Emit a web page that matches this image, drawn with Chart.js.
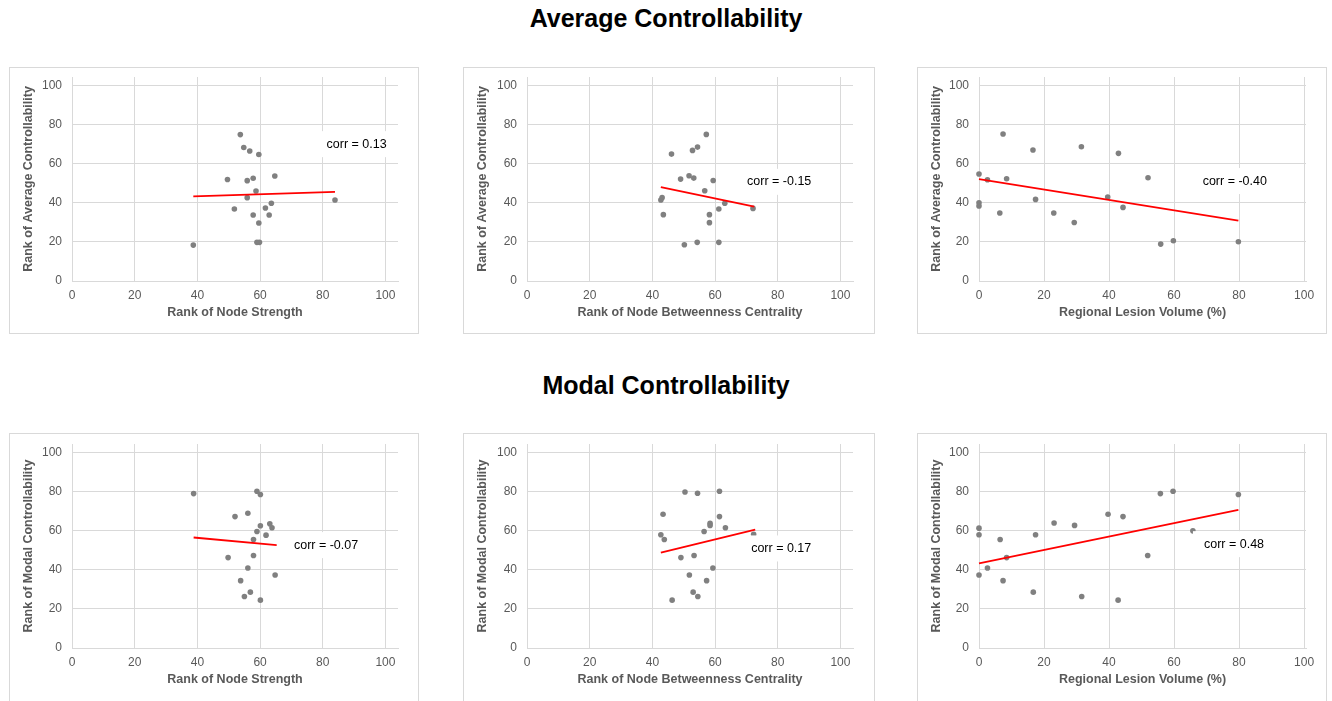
<!DOCTYPE html>
<html>
<head>
<meta charset="utf-8">
<script src="https://cdn.jsdelivr.net/npm/chart.js@4"></script>
<style>
  body { margin: 0; width: 1332px; height: 701px; background: #fff; position: relative; overflow: hidden;
         font-family: "Liberation Sans", Arial, sans-serif; }
  .title { position: absolute; left: 0; width: 1332px; text-align: center; font-weight: bold; font-size: 25px; color: #000; }
  .panel { position: absolute; border: 1px solid #d9d9d9; box-sizing: border-box; }
  .panel canvas { position: absolute; left: 0; top: 0; }
</style>
</head>
<body>
<div class="title" style="top:4px">Average Controllability</div>
<div class="title" style="top:371px">Modal Controllability</div>

<script>
// ---- data ----
const axisTicks = [0, 20, 40, 60, 80, 100];

// top row: rank of average controllability
const strengthAvgX = [53.7, 54.8, 56.7, 59.6, 49.6, 55.9, 57.8, 64.7, 58.7, 55.9, 51.8, 61.7, 63.6, 57.8, 62.9, 59.6, 59.0, 59.8, 38.7, 83.9];
const strengthAvgY = [75.0, 68.4, 66.6, 64.8, 52.0, 51.4, 52.6, 53.8, 46.1, 42.7, 36.9, 37.4, 39.8, 33.8, 33.8, 29.7, 19.8, 19.8, 18.4, 41.5];
const strengthAvgTrendX = [38.7, 83.9];
const strengthAvgTrendY = [43.3, 45.7];

const betweenAvgX = [57.2, 54.4, 52.8, 46.1, 49.0, 51.7, 53.2, 59.4, 56.7, 43.1, 42.7, 43.5, 63.1, 61.2, 72.1, 58.2, 58.2, 50.2, 54.3, 61.2];
const betweenAvgY = [75.1, 68.6, 66.9, 65.0, 52.2, 53.9, 52.7, 51.5, 46.2, 42.7, 41.5, 34.0, 39.8, 36.9, 37.2, 34.0, 29.9, 18.6, 19.8, 19.8];
const betweenAvgTrendX = [42.7, 72.5];
const betweenAvgTrendY = [48.1, 38.1];

const lesionAvgX = [0, 0, 0, 2.6, 7.4, 8.5, 6.4, 16.6, 17.4, 23.0, 29.3, 31.5, 39.6, 42.9, 44.3, 52.0, 55.9, 59.8, 79.8];
const lesionAvgY = [54.8, 40.1, 38.4, 51.9, 75.3, 52.4, 34.8, 67.1, 41.8, 34.8, 30.0, 68.8, 43.0, 65.4, 37.7, 52.9, 18.9, 20.6, 20.1];
const lesionAvgTrendX = [0, 79.8];
const lesionAvgTrendY = [52.2, 30.9];

// bottom row: rank of modal controllability
const strengthModalX = [38.8, 59.0, 60.1, 52.0, 56.1, 63.1, 63.8, 60.1, 59.0, 61.9, 57.9, 57.9, 49.8, 56.1, 64.8, 53.8, 56.9, 55.0, 60.1];
const strengthModalY = [79.1, 80.3, 78.6, 67.3, 69.0, 63.6, 61.6, 62.6, 59.7, 57.8, 55.6, 47.4, 46.3, 41.0, 37.4, 34.5, 28.6, 26.4, 24.5];
const strengthModalTrendX = [38.8, 65.3];
const strengthModalTrendY = [56.6, 52.7];

const betweenModalX = [50.4, 54.4, 61.4, 43.4, 61.4, 58.4, 58.4, 63.3, 56.5, 42.7, 43.8, 72.3, 49.1, 53.3, 59.3, 51.8, 57.3, 53.0, 54.5, 46.3];
const betweenModalY = [79.9, 79.3, 80.3, 68.5, 67.3, 63.9, 62.8, 61.6, 59.7, 58.0, 55.6, 58.2, 46.3, 47.4, 41.0, 37.4, 34.5, 28.6, 26.4, 24.5];
const betweenModalTrendX = [42.7, 72.8];
const betweenModalTrendY = [48.8, 60.7];

const lesionModalX = [0, 0, 0, 2.6, 6.5, 7.4, 8.5, 16.7, 17.4, 23.1, 29.4, 31.6, 39.7, 42.8, 44.3, 51.9, 55.8, 59.7, 65.8, 79.8];
const lesionModalY = [61.4, 58.0, 37.4, 41.0, 55.6, 34.5, 46.3, 28.6, 58.0, 64.0, 62.8, 26.4, 68.5, 24.5, 67.3, 47.4, 79.1, 80.3, 60.0, 78.6];
const lesionModalTrendX = [0, 79.8];
const lesionModalTrendY = [43.4, 70.7];

const corrLabels = ['corr = 0.13', 'corr = -0.15', 'corr = -0.40', 'corr = -0.07', 'corr = 0.17', 'corr = 0.48'];
const xTitles = ['Rank of Node Strength', 'Rank of Node Betweenness Centrality', 'Regional Lesion Volume (%)'];
const yTitles = ['Rank of Average Controllability', 'Rank of Modal Controllability'];

// ---- layout (page pixels) ----
const FONT = '"Liberation Sans", Arial, sans-serif';
Chart.defaults.font.family = FONT;

const panels = [
  { box: [9, 67, 410, 267],   area: [72, 77, 398, 281],   xMax: 104,   xs: strengthAvgX,   ys: strengthAvgY,   tx: strengthAvgTrendX,   ty: strengthAvgTrendY,   xt: 0, yt: 0, lab: [81.2, 70.1] },
  { box: [463, 67, 412, 267], area: [527, 77, 853, 281],  xMax: 104,   xs: betweenAvgX,    ys: betweenAvgY,    tx: betweenAvgTrendX,    ty: betweenAvgTrendY,    xt: 1, yt: 0, lab: [70.2, 50.8] },
  { box: [917, 67, 410, 267], area: [979, 77, 1306, 281], xMax: 100.6, xs: lesionAvgX,     ys: lesionAvgY,     tx: lesionAvgTrendX,     ty: lesionAvgTrendY,     xt: 2, yt: 0, lab: [68.8, 51.2] },
  { box: [9, 433, 410, 270],   area: [72, 444, 398, 648],   xMax: 104,   xs: strengthModalX, ys: strengthModalY, tx: strengthModalTrendX, ty: strengthModalTrendY, xt: 0, yt: 1, lab: [70.8, 52.7] },
  { box: [463, 433, 412, 270], area: [527, 444, 853, 648],  xMax: 104,   xs: betweenModalX,  ys: betweenModalY,  tx: betweenModalTrendX,  ty: betweenModalTrendY,  xt: 1, yt: 1, lab: [71.5, 51.0] },
  { box: [917, 433, 410, 270], area: [979, 444, 1306, 648], xMax: 100.6, xs: lesionModalX,   ys: lesionModalY,   tx: lesionModalTrendX,   ty: lesionModalTrendY,   xt: 2, yt: 1, lab: [69.2, 53.2] }
];

// corr = ... text on a white box, drawn over the marks
const corrPlugin = {
  id: 'corr',
  afterDatasetsDraw(chart, args, opts) {
    const ctx = chart.ctx;
    const x = chart.scales.x.getPixelForValue(opts.pos[0]);
    const y = chart.scales.y.getPixelForValue(opts.pos[1]);
    ctx.save();
    ctx.font = '12.5px ' + FONT;
    const w = ctx.measureText(opts.text).width;
    ctx.fillStyle = '#fff';
    ctx.fillRect(x - 11, y - 13, w + 21, 26);
    ctx.fillStyle = '#000';
    ctx.textBaseline = 'middle';
    ctx.fillText(opts.text, x, y);
    ctx.restore();
  }
};

const titleHalf = 7.5;   // half line height of the axis titles

panels.forEach((p, i) => {
  const [bx, by, bw, bh] = p.box;
  const [al, at, ar, ab] = p.area;
  const div = document.createElement('div');
  div.className = 'panel';
  div.style.cssText = `left:${bx}px;top:${by}px;width:${bw}px;height:${bh}px`;
  const cv = document.createElement('canvas');
  const cw = bw - 2, ch = bh - 2, cx = bx + 1, cy = by + 1;
  cv.width = cw; cv.height = ch;
  cv.style.width = cw + 'px'; cv.style.height = ch + 'px';
  div.appendChild(cv);
  document.body.appendChild(div);

  const padLeft = 19 - titleHalf;
  const yWidth = (al - cx) - padLeft;
  const xHeight = 32 + titleHalf;
  const padBottom = (cy + ch) - (ab + xHeight);

  const axisCommon = {
    type: 'linear',
    min: 0,
    afterBuildTicks: s => { s.ticks = axisTicks.map(v => ({ value: v })); },
    grid: { color: '#d9d9d9', lineWidth: 1, drawTicks: false },
    border: { display: true, color: '#d9d9d9', width: 1 },
  };

  new Chart(cv, {
    type: 'scatter',
    data: {
      datasets: [
        {
          data: p.tx.map((v, k) => ({ x: v, y: p.ty[k] })),
          showLine: true,
          borderColor: '#ff0000',
          borderWidth: 1.8,
          pointRadius: 0,
          clip: false
        },
        {
          data: p.xs.map((v, k) => ({ x: v, y: p.ys[k] })),
          backgroundColor: '#808080',
          borderWidth: 0,
          pointRadius: 2.8,
          clip: false
        }
      ]
    },
    options: {
      responsive: false,
      animation: false,
      devicePixelRatio: 1,
      events: [],
      layout: { padding: { left: padLeft, top: at - cy, right: (cx + cw) - ar, bottom: padBottom } },
      plugins: {
        legend: { display: false },
        tooltip: { enabled: false },
        corr: { text: corrLabels[i], pos: p.lab }
      },
      scales: {
        x: Object.assign({}, axisCommon, {
          max: p.xMax,
          position: 'bottom',
          afterFit: s => { s.height = xHeight; s.paddingLeft = 0; s.paddingRight = 0; },
          ticks: { color: '#595959', font: { size: 12 }, padding: 7, maxRotation: 0 },
          title: { display: true, text: xTitles[p.xt], color: '#595959', font: { size: 12.5, weight: 'bold' }, padding: 0 }
        }),
        y: Object.assign({}, axisCommon, {
          max: 104.5,
          position: 'left',
          afterFit: s => { s.width = yWidth; s.paddingTop = 0; s.paddingBottom = 0; },
          ticks: { color: '#595959', font: { size: 12 }, padding: 10 },
          title: { display: true, text: yTitles[p.yt], color: '#595959', font: { size: 12.5, weight: 'bold' }, padding: 0 }
        })
      }
    },
    plugins: [corrPlugin]
  });
});
</script>
</body>
</html>
